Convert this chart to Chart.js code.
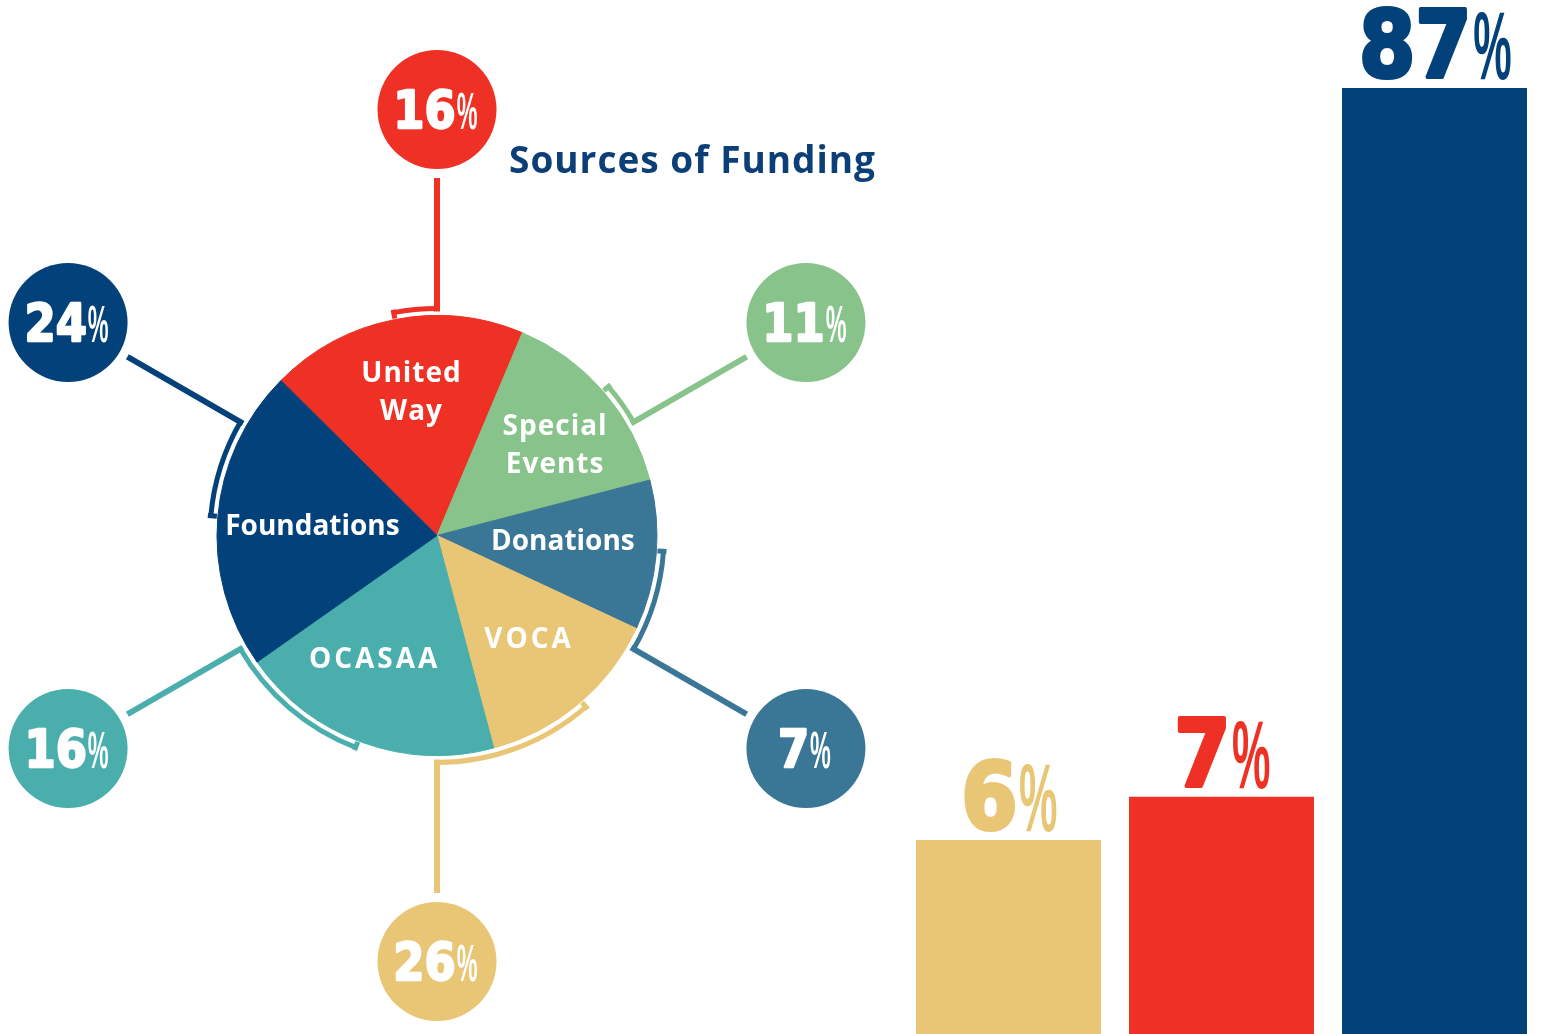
<!DOCTYPE html>
<html><head><meta charset="utf-8">
<script src="https://cdn.jsdelivr.net/npm/chart.js@4.4.1/dist/chart.umd.min.js"></script>
<style>
html,body{margin:0;padding:0;background:#fff;overflow:hidden;}
#wrap{position:relative;width:1541px;height:1034px;background:#fff;}
#pie{position:absolute;left:0;top:0;}
#bars{position:absolute;left:902px;top:0;}
</style></head><body>
<div id="wrap">
<canvas id="pie" width="1541" height="1034"></canvas>
<canvas id="bars" width="639" height="1034"></canvas>
</div>
<script>
// ---------- data ----------
const chartTitle = 'Sources of Funding';
const sources = ['United Way', 'Special Events', 'Donations', 'VOCA', 'OCASAA', 'Foundations'];
const sliceLabelLines = [['United', 'Way'], ['Special', 'Events'], ['Donations'], ['VOCA'], ['OCASAA'], ['Foundations']];
const sliceShares = [18.9, 14.6, 11.0, 13.9, 19.4, 22.2];      // slice sizes as drawn in the picture
const sourcePercents = ['16%', '11%', '7%', '26%', '16%', '24%']; // callout texts
const sourceColors = ['#EE3124', '#87C38A', '#3A7696', '#E9C675', '#4AAEAD', '#03417A'];
const calloutAngles = [0, 60, 120, 180, 240, 300];
const bracketEnds = [-11, 49, 94, 139, 201, 275];
const labelNudge = [[147, 1], [149, 3], [126, -3], [137, -1.4], [138, 7.6], [125, 0]];
const labelSpacing = [1, 1, 0, 3, 3, 0];

const barCategories = ['Bar 1', 'Bar 2', 'Bar 3'];
const barValues = [6, 7, 87];
const barLabels = ['6%', '7%', '87%'];
const barColors = ['#E9C675', '#EE3124', '#03417A'];

// ---------- helpers ----------
const deg = Math.PI / 180;
function pol(cx, cy, r, aDeg) {
  const a = (aDeg - 90) * deg;
  return [cx + r * Math.cos(a), cy + r * Math.sin(a)];
}
function drawPct(ctx, text, cx, baseline, dSize, pSize, color) {
  const digits = text.replace('%', '');
  const dFont = 'bold ' + dSize + 'px "DejaVu Sans"';
  const pFont = 'bold ' + pSize + 'px "Liberation Sans"';
  const dScale = 0.88, pScale = 0.45;
  const sw = dSize * 0.045;
  ctx.save();
  ctx.fillStyle = color;
  ctx.strokeStyle = color;
  ctx.lineJoin = 'round';
  ctx.textAlign = 'left';
  ctx.textBaseline = 'alphabetic';
  ctx.font = dFont;
  const dW = ctx.measureText(digits).width * dScale;
  ctx.font = pFont;
  const pW = ctx.measureText('%').width * pScale;
  const x0 = cx - (dW + pW) / 2;
  ctx.save();
  ctx.translate(x0, baseline - sw / 2); ctx.scale(dScale, 1);
  ctx.font = dFont; ctx.lineWidth = sw;
  ctx.fillText(digits, 0, 0);
  ctx.strokeText(digits, 0, 0);
  ctx.restore();
  ctx.save();
  ctx.translate(x0 + dW + sw * 0.4, baseline); ctx.scale(pScale, 1);
  ctx.font = pFont; ctx.fillText('%', 0, 0);
  ctx.restore();
  ctx.restore();
}

// ---------- pie callouts ----------
const calloutPlugin = {
  id: 'callouts',
  afterDatasetsDraw(chart) {
    const ctx = chart.ctx;
    const meta = chart.getDatasetMeta(0);
    const a0 = meta.data[0];
    const cx = a0.x, cy = a0.y, R = a0.outerRadius;
    const rb = R + 7, D = 426, cr = 59.5;
    // slice labels
    meta.data.forEach((arc, i) => {
      const mid = (arc.startAngle + arc.endAngle) / 2 + labelNudge[i][1] * deg;
      const r = labelNudge[i][0];
      const x = cx + r * Math.cos(mid), y = cy + r * Math.sin(mid);
      const lines = sliceLabelLines[i];
      const size = 28, lh = 38.5;
      ctx.save();
      ctx.fillStyle = '#ffffff';
      ctx.font = '700 ' + size + 'px "Open Sans"';
      ctx.textAlign = 'center';
      ctx.textBaseline = 'alphabetic';
      try { ctx.letterSpacing = labelSpacing[i] + 'px'; } catch (e) {}
      lines.forEach((t, k) => {
        const yy = y + (k - (lines.length - 1) / 2) * lh + size * 0.36;
        ctx.fillText(t, x + labelSpacing[i] / 2, yy);
      });
      ctx.restore();
    });
    // brackets, connectors, circles
    sourceColors.forEach((col, i) => {
      const a = calloutAngles[i], b = bracketEnds[i];
      ctx.save();
      ctx.strokeStyle = col;
      ctx.lineWidth = 5;
      ctx.lineCap = 'butt';
      ctx.beginPath();
      ctx.arc(cx, cy, rb, (b - 90) * deg, (a - 90) * deg, false);
      ctx.stroke();
      // tick at bracket end
      let p1 = pol(cx, cy, R + 1, b), p2 = pol(cx, cy, R + 10, b);
      ctx.beginPath(); ctx.moveTo(p1[0], p1[1]); ctx.lineTo(p2[0], p2[1]); ctx.stroke();
      // connector
      p1 = pol(cx, cy, R + 4, a); p2 = pol(cx, cy, D - cr - 9, a);
      ctx.lineWidth = 6;
      ctx.beginPath(); ctx.moveTo(p1[0], p1[1]); ctx.lineTo(p2[0], p2[1]); ctx.stroke();
      // circle
      const c = pol(cx, cy, D, a);
      ctx.fillStyle = col;
      ctx.beginPath(); ctx.arc(c[0], c[1], cr, 0, Math.PI * 2); ctx.fill();
      ctx.restore();
      drawPct(ctx, sourcePercents[i], c[0] - 2, c[1] + 19.5, 51, 52, '#ffffff');
    });
    // title
    ctx.save();
    ctx.fillStyle = '#0C3F77';
    ctx.font = '700 37px "Open Sans"';
    ctx.textAlign = 'left';
    ctx.textBaseline = 'alphabetic';
    try { ctx.letterSpacing = '1px'; } catch (e) {}
    ctx.fillText(chartTitle, 509, 173);
    ctx.restore();
  }
};

new Chart(document.getElementById('pie'), {
  type: 'pie',
  data: {
    labels: sources,
    datasets: [{
      data: sliceShares,
      backgroundColor: sourceColors,
      borderColor: sourceColors,
      borderWidth: 1,
      rotation: -45.2,
      radius: 220
    }]
  },
  options: {
    responsive: false,
    animation: false,
    events: [],
    rotation: -45.2,
    radius: 220,
    layout: { padding: { left: 0, right: 667, top: 37, bottom: 0 } },
    plugins: { legend: { display: false }, tooltip: { enabled: false } }
  },
  plugins: [calloutPlugin]
});

// ---------- bar chart ----------
const barLabelPlugin = {
  id: 'barLabels',
  afterDatasetsDraw(chart) {
    const ctx = chart.ctx;
    chart.getDatasetMeta(0).data.forEach((bar, i) => {
      drawPct(ctx, barLabels[i], bar.x, bar.y - 9, 92, 96, barColors[i]);
    });
  }
};

new Chart(document.getElementById('bars'), {
  type: 'bar',
  data: {
    labels: barCategories,
    datasets: [{
      data: barValues,
      backgroundColor: barColors,
      borderWidth: 0,
      barPercentage: 0.8685,
      categoryPercentage: 1
    }]
  },
  options: {
    responsive: false,
    animation: false,
    events: [],
    layout: { padding: 0 },
    plugins: { legend: { display: false }, tooltip: { enabled: false } },
    scales: {
      x: { display: false },
      y: { type: 'logarithmic', display: false, min: 3.011, max: 119.0, bounds: 'data' }
    }
  },
  plugins: [barLabelPlugin]
});
</script>
</body></html>
